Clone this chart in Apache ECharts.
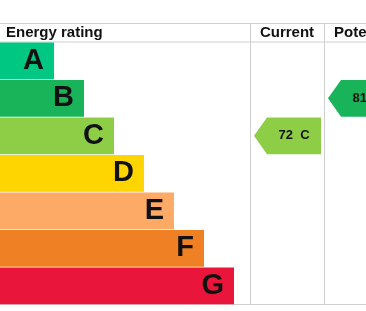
<!DOCTYPE html>
<html><head><meta charset="utf-8">
<script src="https://cdn.jsdelivr.net/npm/echarts@6/dist/echarts.min.js"></script>
<style>html,body{margin:0;padding:0;background:#fff}#c{width:366px;height:311px}</style>
</head><body><div id="c"></div>
<script>
const bands = ['A','B','C','D','E','F','G'];
const bandLengths = [54, 84, 114, 144, 174, 204, 234];
const bandColors = ['#00c781','#19b459','#8dce46','#ffd500','#fcaa65','#ef8023','#e9153b'];
const headers = ['Energy rating', 'Current', 'Potential'];
const currentRating = {band: 'C', score: 72};
const potentialRating = {band: 'B', score: 81};

const FONT = 'Liberation Sans, Arial, sans-serif';
const chart = echarts.init(document.getElementById('c'));

function arrowSeries(name, rating, tipX) {
  return {
    type: 'custom', name,
    data: [[bands.indexOf(rating.band), rating.score, rating.band]],
    encode: {y: 0},
    renderItem: (params, api) => {
      const row = api.value(0);
      const p = api.coord([tipX, row]);
      const h = api.size([0, 1])[1] * 0.98;
      const bodyX = api.coord([tipX + 13, row])[0];
      const endX = api.coord([tipX + 67, row])[0];
      const col = bandColors[row];
      return {
        type: 'group',
        children: [{
          type: 'polygon',
          shape: {points: [[p[0], p[1]], [bodyX, p[1] - h / 2], [endX, p[1] - h / 2], [endX, p[1] + h / 2], [bodyX, p[1] + h / 2]]},
          style: {fill: col}
        }, {
          type: 'text',
          style: {
            x: (bodyX + endX) / 2, y: p[1],
            text: api.value(1) + '  ' + api.value(2),
            fill: '#111', font: 'bold 13px ' + FONT,
            align: 'center', verticalAlign: 'middle'
          }
        }]
      };
    }
  };
}

const lineStyle = {stroke: '#cfcfcf', lineWidth: 1};
chart.setOption({
  animation: false,
  grid: {left: 0, right: 0, top: 42, bottom: 6.5},
  xAxis: {type: 'value', min: 0, max: 366, show: false},
  yAxis: {type: 'category', data: bands, inverse: true, show: false},
  graphic: [
    {type: 'line', shape: {x1: 0, y1: 23.5, x2: 366, y2: 23.5}, style: lineStyle},
    {type: 'line', shape: {x1: 0, y1: 42, x2: 366, y2: 42}, style: lineStyle},
    {type: 'line', shape: {x1: 0, y1: 304.5, x2: 366, y2: 304.5}, style: lineStyle},
    {type: 'line', shape: {x1: 250.5, y1: 23, x2: 250.5, y2: 305}, style: lineStyle},
    {type: 'line', shape: {x1: 324.5, y1: 23, x2: 324.5, y2: 305}, style: lineStyle},
    {type: 'text', style: {x: 6, y: 33, text: headers[0], font: 'bold 15px ' + FONT, fill: '#111', verticalAlign: 'middle'}},
    {type: 'text', style: {x: 287, y: 33, text: headers[1], font: 'bold 15px ' + FONT, fill: '#111', align: 'center', verticalAlign: 'middle'}},
    {type: 'text', style: {x: 334, y: 33, text: headers[2], font: 'bold 15px ' + FONT, fill: '#111', verticalAlign: 'middle'}}
  ],
  series: [
    {
      type: 'bar',
      data: bandLengths.map((v, i) => ({value: v, itemStyle: {color: bandColors[i]}})),
      barCategoryGap: '2%',
      label: {
        show: true, position: 'insideRight', distance: 10,
        formatter: p => bands[p.dataIndex],
        color: '#111', fontFamily: FONT, fontWeight: 'bold', fontSize: 29
      },
      silent: true
    },
    arrowSeries('current', currentRating, 254),
    arrowSeries('potential', potentialRating, 328)
  ]
});
</script></body></html>
